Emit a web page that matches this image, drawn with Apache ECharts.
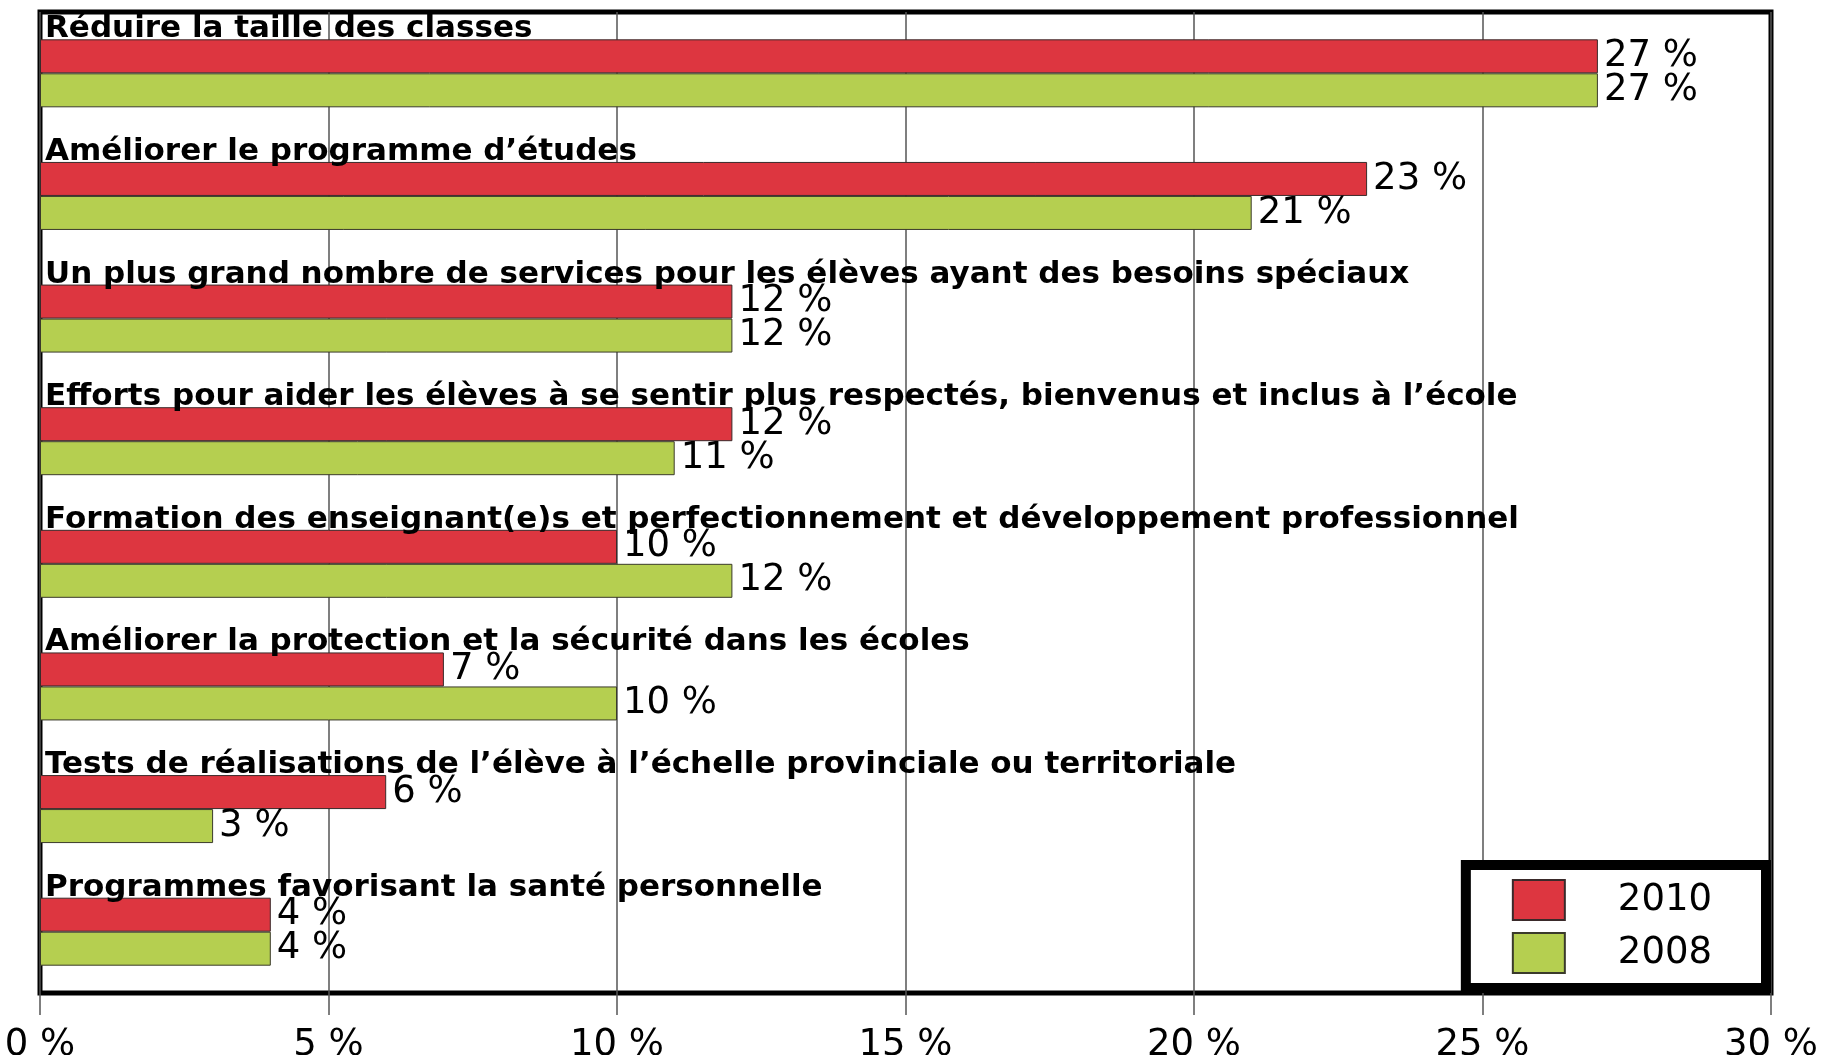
<!DOCTYPE html>
<html>
<head>
<meta charset="utf-8">
<script src="https://cdn.jsdelivr.net/npm/echarts@6/dist/echarts.min.js"></script>
<style>
  html, body { margin: 0; padding: 0; background: #fff; }
  #chart { width: 1826px; height: 1055px; }
</style>
</head>
<body>
<div id="chart"></div>
<script>
var categories = [
  'Réduire la taille des classes',
  'Améliorer le programme d’études',
  'Un plus grand nombre de services pour les élèves ayant des besoins spéciaux',
  'Efforts pour aider les élèves à se sentir plus respectés, bienvenus et inclus à l’école',
  'Formation des enseignant(e)s et perfectionnement et développement professionnel',
  'Améliorer la protection et la sécurité dans les écoles',
  'Tests de réalisations de l’élève à l’échelle provinciale ou territoriale',
  'Programmes favorisant la santé personnelle'
];
var values2010 = [27, 23, 12, 12, 10, 7, 6, 4];
var values2008 = [27, 21, 12, 11, 12, 10, 3, 4];
var seriesNames = ['2010', '2008'];

var chart = echarts.init(document.getElementById('chart'));

var valueLabel = {
  show: true,
  position: 'right',
  distance: 6,
  color: '#000',
  fontFamily: 'DejaVu Sans',
  fontSize: 37,
  formatter: '{c} %'
};

// category titles sit above each pair of bars, starting at 0
var titleData = categories.map(function(c) {
  return { name: c, value: [0, c] };
});

var option = {
  animation: false,
  backgroundColor: '#fff',
  grid: {
    left: 40,
    right: 55,
    top: 12,
    bottom: 62,
    outerBoundsMode: 'none',
    show: true,
    borderColor: '#000',
    borderWidth: 5,
    backgroundColor: 'transparent'
  },
  legend: {
    data: seriesNames,
    orient: 'vertical',
    right: 60,
    bottom: 67,
    backgroundColor: '#fff',
    borderColor: '#000',
    borderWidth: 10,
    padding: [14, 54, 14, 46],
    itemWidth: 52,
    itemHeight: 40,
    itemGap: 11,
    icon: 'rect',
    textStyle: {
      color: '#000',
      fontFamily: 'DejaVu Sans',
      fontSize: 37,
      padding: [0, 0, 0, 48]
    }
  },
  xAxis: {
    type: 'value',
    min: 0,
    max: 30,
    interval: 5,
    axisLine: { show: false },
    axisTick: { show: true, length: 22, lineStyle: { color: '#555', width: 1.5 } },
    splitLine: { show: true, lineStyle: { color: '#555', width: 1.5 } },
    axisLabel: {
      margin: 34,
      color: '#000',
      fontFamily: 'DejaVu Sans',
      fontSize: 37,
      formatter: '{value} %'
    }
  },
  yAxis: {
    type: 'category',
    inverse: true,
    data: categories,
    axisLine: { show: false },
    axisTick: { show: false },
    splitLine: { show: false },
    axisLabel: { show: false }
  },
  series: [
    {
      name: seriesNames[0],
      type: 'bar',
      data: values2010,
      barWidth: 34,
      barGap: '0%',
      itemStyle: { color: '#DD3640', borderColor: '#3a2a2a', borderWidth: 1 },
      label: valueLabel
    },
    {
      name: seriesNames[1],
      type: 'bar',
      data: values2008,
      barWidth: 34,
      barGap: '0%',
      itemStyle: { color: '#B5CF50', borderColor: '#3a3a2a', borderWidth: 1 },
      label: valueLabel
    },
    {
      name: 'titres',
      type: 'scatter',
      data: titleData,
      symbolSize: 0,
      z: 10,
      silent: true,
      itemStyle: { opacity: 1 },
      label: {
        show: true,
        position: 'right',
        distance: 5,
        offset: [0, -44],
        opacity: 1,
        color: '#000',
        fontFamily: 'DejaVu Sans',
        fontWeight: 'bold',
        fontSize: 31,
        formatter: function(p) { return p.name; }
      }
    }
  ]
};
chart.setOption(option);

window.addEventListener('resize', function() {
  chart.resize();
});
</script>
</body>
</html>
